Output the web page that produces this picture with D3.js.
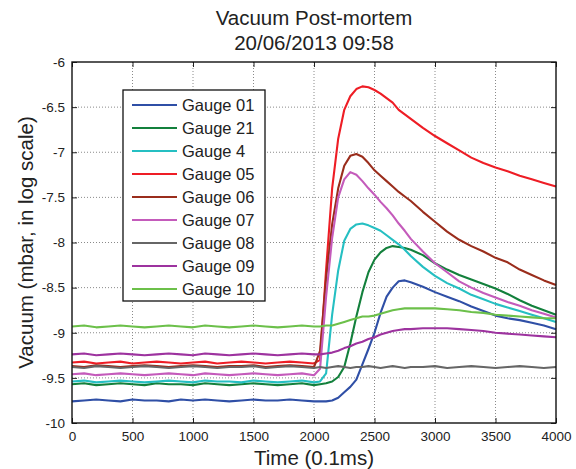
<!DOCTYPE html>
<html>
<head>
<meta charset="utf-8">
<script src="https://cdn.jsdelivr.net/npm/d3@7"></script>
<style>
  body { margin: 0; background: #fff; }
  text { font-family: 'Liberation Sans', Arial, sans-serif; fill: #222; }
</style>
</head>
<body>
<svg class="vacuum"></svg>
<script>
const TITLE = ['Vacuum Post-mortem', '20/06/2013 09:58']
const X_LABEL = 'Time (0.1ms)'
const Y_LABEL = 'Vacuum (mbar, in log scale)'
const X_TICKS = [0, 500, 1000, 1500, 2000, 2500, 3000, 3500, 4000]
const Y_TICKS = [-6, -6.5, -7, -7.5, -8, -8.5, -9, -9.5, -10]

// time samples (0.1ms)
const TIME = [0, 100, 200, 300, 400, 500, 600, 700, 800, 900,
    1000, 1100, 1200, 1300, 1400, 1500, 1600, 1700, 1800, 1900,
    2000, 2050, 2100, 2150, 2200, 2250, 2300, 2350, 2400, 2450,
    2500, 2550, 2600, 2650, 2700, 2750, 2800,
    2900, 3000, 3100, 3200, 3300, 3400, 3500, 3600, 3700, 3800, 3900, 4000]

const GAUGE_NAMES = ['Gauge 01', 'Gauge 21', 'Gauge 4', 'Gauge 05', 'Gauge 06', 'Gauge 07', 'Gauge 08', 'Gauge 09', 'Gauge 10']
const GAUGE_COLORS = ['#2f4fa6', '#13803c', '#25bfc2', '#ee1d25', '#9a2d1c', '#c45bbb', '#666666', '#9d339f', '#6cc04a']

const gauge01 = [-9.76, -9.75, -9.74, -9.75, -9.76, -9.74, -9.75, -9.75, -9.76, -9.74,
    -9.75, -9.74, -9.75, -9.76, -9.75, -9.74, -9.75, -9.75, -9.74, -9.75,
    -9.76, -9.76, -9.76, -9.75, -9.72, -9.66, -9.6, -9.52, -9.35, -9.18,
    -9.0, -8.78, -8.6, -8.5, -8.43, -8.42, -8.44,
    -8.49, -8.55, -8.6, -8.65, -8.71, -8.76, -8.81, -8.84, -8.86, -8.89, -8.92, -8.96]
const gauge21 = [-9.57, -9.56, -9.58, -9.57, -9.56, -9.57, -9.58, -9.56, -9.57, -9.57,
    -9.58, -9.56, -9.57, -9.58, -9.57, -9.56, -9.57, -9.58, -9.57, -9.56,
    -9.58, -9.57, -9.56, -9.54, -9.49, -9.38, -9.12, -8.82, -8.55, -8.33,
    -8.19, -8.11, -8.06, -8.04, -8.05, -8.06, -8.08,
    -8.14, -8.23, -8.3, -8.36, -8.41, -8.46, -8.51, -8.57, -8.64, -8.7, -8.75, -8.8]
const gauge4 = [-9.54, -9.53, -9.55, -9.54, -9.53, -9.54, -9.55, -9.54, -9.53, -9.54,
    -9.55, -9.53, -9.54, -9.54, -9.55, -9.53, -9.54, -9.55, -9.54, -9.53,
    -9.55, -9.54, -9.45, -8.8, -8.31, -7.98, -7.85, -7.8, -7.79, -7.81,
    -7.84, -7.87, -7.92, -7.97, -8.02, -8.08, -8.15,
    -8.27, -8.37, -8.45, -8.51, -8.58, -8.63, -8.68, -8.72, -8.76, -8.8, -8.84, -8.88]
const gauge05 = [-9.33, -9.32, -9.34, -9.33, -9.32, -9.34, -9.33, -9.32, -9.33, -9.34,
    -9.33, -9.32, -9.34, -9.33, -9.32, -9.33, -9.34, -9.33, -9.32, -9.33,
    -9.34, -9.3, -8.3, -7.4, -6.85, -6.53, -6.38, -6.3, -6.27, -6.28,
    -6.31, -6.35, -6.4, -6.45, -6.53, -6.58, -6.63,
    -6.73, -6.82, -6.9, -6.98, -7.06, -7.12, -7.17, -7.21, -7.26, -7.3, -7.34, -7.38]
const gauge06 = [-9.37, -9.38, -9.36, -9.37, -9.38, -9.37, -9.36, -9.37, -9.38, -9.37,
    -9.36, -9.37, -9.38, -9.37, -9.37, -9.36, -9.38, -9.37, -9.36, -9.37,
    -9.38, -9.2, -8.4, -7.8, -7.4, -7.15, -7.04, -7.02, -7.05, -7.12,
    -7.2, -7.26, -7.32, -7.38, -7.44, -7.49, -7.54,
    -7.66, -7.77, -7.88, -7.97, -8.04, -8.1, -8.17, -8.22, -8.3, -8.36, -8.42, -8.47]
const gauge07 = [-9.46, -9.45, -9.47, -9.46, -9.45, -9.46, -9.47, -9.46, -9.45, -9.46,
    -9.47, -9.45, -9.46, -9.47, -9.46, -9.45, -9.46, -9.47, -9.46, -9.45,
    -9.47, -9.4, -8.6, -7.95, -7.5, -7.3, -7.22, -7.25, -7.32, -7.4,
    -7.47, -7.55, -7.62, -7.7, -7.79, -7.87, -7.96,
    -8.1, -8.23, -8.33, -8.43, -8.5, -8.56, -8.61, -8.66, -8.7, -8.75, -8.79, -8.83]
const gauge08 = [-9.38, -9.39, -9.37, -9.38, -9.39, -9.38, -9.37, -9.38, -9.39, -9.38,
    -9.37, -9.38, -9.39, -9.38, -9.38, -9.37, -9.39, -9.38, -9.37, -9.38,
    -9.39, -9.38, -9.39, -9.38, -9.37, -9.38, -9.39, -9.38, -9.38, -9.37,
    -9.38, -9.39, -9.38, -9.37, -9.38, -9.39, -9.38,
    -9.38, -9.37, -9.39, -9.38, -9.37, -9.38, -9.39, -9.38, -9.37, -9.38, -9.39, -9.38]
const gauge09 = [-9.24, -9.23, -9.25, -9.24, -9.23, -9.24, -9.25, -9.24, -9.23, -9.24,
    -9.25, -9.23, -9.24, -9.25, -9.24, -9.23, -9.24, -9.25, -9.24, -9.23,
    -9.24, -9.24, -9.23, -9.22, -9.2, -9.17, -9.15, -9.12, -9.1, -9.07,
    -9.05, -9.02, -9.0, -8.98, -8.97, -8.96, -8.96,
    -8.95, -8.95, -8.95, -8.96, -8.97, -8.98, -9.0, -9.01, -9.02, -9.03, -9.04, -9.05]
const gauge10 = [-8.93, -8.92, -8.94, -8.93, -8.92, -8.93, -8.94, -8.93, -8.92, -8.93,
    -8.94, -8.92, -8.93, -8.94, -8.93, -8.92, -8.93, -8.94, -8.93, -8.92,
    -8.93, -8.93, -8.92, -8.92, -8.9, -8.88, -8.86, -8.84, -8.82, -8.82,
    -8.81, -8.79, -8.77, -8.75, -8.74, -8.73, -8.73,
    -8.73, -8.73, -8.74, -8.75, -8.77, -8.78, -8.8, -8.81, -8.82, -8.83, -8.84, -8.84]

const GAUGES = [gauge01, gauge21, gauge4, gauge05, gauge06, gauge07, gauge08, gauge09, gauge10]

const width = 576
const height = 469
const margin = { top: 62, right: 20, bottom: 46, left: 72 }

function drawFrame(svg, x, y) {
    const plotW = width - margin.left - margin.right
    const plotH = height - margin.top - margin.bottom
    const g = svg.append('g')
        .attr('transform', `translate(${margin.left},${margin.top})`)

    // dotted grid
    g.selectAll('.gridX')
        .data(X_TICKS.slice(1, -1))
        .enter().append('line')
        .attr('x1', d => x(d)).attr('x2', d => x(d))
        .attr('y1', 0).attr('y2', plotH)
        .attr('stroke', '#8a8a8a')
        .attr('stroke-dasharray', '1,2')
    g.selectAll('.gridY')
        .data(Y_TICKS.slice(1, -1))
        .enter().append('line')
        .attr('x1', 0).attr('x2', plotW)
        .attr('y1', d => y(d)).attr('y2', d => y(d))
        .attr('stroke', '#8a8a8a')
        .attr('stroke-dasharray', '1,2')

    const axisStyle = sel => {
        sel.select('.domain').remove()
        sel.selectAll('line').attr('stroke', '#222')
        sel.selectAll('text').style('font-size', '13.5px').attr('fill', '#222')
    }

    g.append('g')
        .attr('transform', `translate(0,${plotH})`)
        .call(d3.axisBottom(x).tickValues(X_TICKS).tickSizeInner(-5).tickSizeOuter(0).tickPadding(8).tickFormat(d3.format('d')))
        .call(axisStyle)
    g.append('g')
        .call(d3.axisTop(x).tickValues(X_TICKS).tickSizeInner(-5).tickSizeOuter(0).tickFormat(''))
        .call(axisStyle)
    g.append('g')
        .call(d3.axisLeft(y).tickValues(Y_TICKS).tickSizeInner(-5).tickSizeOuter(0).tickPadding(7).tickFormat(d => d))
        .call(axisStyle)
    g.append('g')
        .attr('transform', `translate(${plotW},0)`)
        .call(d3.axisRight(y).tickValues(Y_TICKS).tickSizeInner(-5).tickSizeOuter(0).tickFormat(''))
        .call(axisStyle)

    return g
}

function drawSeries(g, x, y) {
    const line = d3.line()
        .x((d, i) => x(TIME[i]))
        .y(d => y(d))

    g.selectAll('.gauge')
        .data(GAUGES)
        .enter().append('path')
        .attr('class', 'gauge')
        .attr('d', line)
        .attr('fill', 'none')
        .attr('stroke', (d, i) => GAUGE_COLORS[i])
        .attr('stroke-width', 2.1)
        .attr('stroke-linejoin', 'round')
}

function drawBox(g) {
    g.append('rect')
        .attr('width', width - margin.left - margin.right)
        .attr('height', height - margin.top - margin.bottom)
        .attr('fill', 'none')
        .attr('stroke', '#111')
        .attr('stroke-width', 1.4)
}

function drawLegend(svg) {
    const legend = svg.append('g').attr('transform', 'translate(123,90)')
    legend.append('rect')
        .attr('width', 142)
        .attr('height', 211)
        .attr('fill', '#fff')
        .attr('stroke', '#111')
        .attr('stroke-width', 1.3)

    const item = legend.selectAll('.item')
        .data(GAUGE_NAMES)
        .enter().append('g')
        .attr('transform', (d, i) => `translate(0,${15 + i * 23})`)

    item.append('line')
        .attr('x1', 9).attr('x2', 54)
        .attr('stroke', (d, i) => GAUGE_COLORS[i])
        .attr('stroke-width', 2)
    item.append('text')
        .attr('x', 59)
        .attr('dy', '.36em')
        .style('font-size', '16.5px')
        .text(d => d)
}

function drawLabels(svg) {
    const cx = margin.left + (width - margin.left - margin.right) / 2
    svg.selectAll('.title')
        .data(TITLE)
        .enter().append('text')
        .attr('x', cx)
        .attr('y', (d, i) => 25 + i * 25)
        .attr('text-anchor', 'middle')
        .style('font-size', '20.5px')
        .text(d => d)

    svg.append('text')
        .attr('x', cx)
        .attr('y', 465)
        .attr('text-anchor', 'middle')
        .style('font-size', '20.5px')
        .text(X_LABEL)

    svg.append('text')
        .attr('transform', `translate(33,${margin.top + (height - margin.top - margin.bottom) / 2}) rotate(-90)`)
        .attr('text-anchor', 'middle')
        .style('font-size', '20.5px')
        .text(Y_LABEL)
}

function createChart() {
    const svg = d3.select('.vacuum')
        .attr('width', width)
        .attr('height', height)

    const x = d3.scaleLinear()
        .domain([0, 4000])
        .range([0, width - margin.left - margin.right])
    const y = d3.scaleLinear()
        .domain([-10, -6])
        .range([height - margin.top - margin.bottom, 0])

    const g = drawFrame(svg, x, y)
    drawSeries(g, x, y)
    drawBox(g)
    drawLegend(svg)
    drawLabels(svg)
}

createChart()
</script>
</body>
</html>
